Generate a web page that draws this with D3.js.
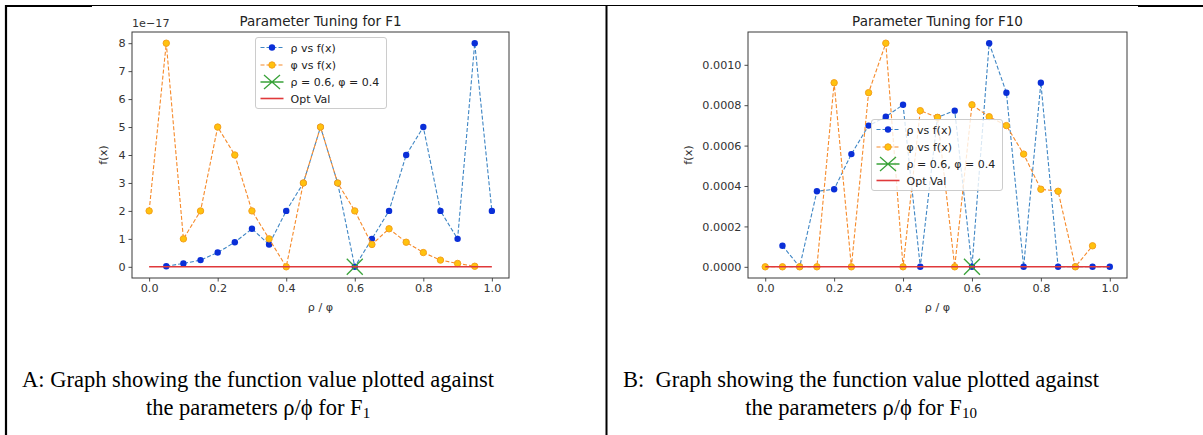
<!DOCTYPE html>
<html>
<head>
<meta charset="utf-8">
<script src="https://cdn.jsdelivr.net/npm/d3@7/dist/d3.min.js"></script>
<style>
  html, body { margin: 0; padding: 0; background: #fff; }
  svg { display: block; }
  .tick text { font-family: 'DejaVu Sans', sans-serif; }
</style>
</head>
<body>
<svg id="chart" width="1203" height="435"></svg>
<script>
// parameter grids (rho goes 0.05..1.0, phi goes 0.0..0.95)
const rhoGrid = [0.05, 0.1, 0.15, 0.2, 0.25, 0.3, 0.35, 0.4, 0.45, 0.5, 0.55, 0.6, 0.65, 0.7, 0.75, 0.8, 0.85, 0.9, 0.95, 1.0];
const phiGrid = [0.0, 0.05, 0.1, 0.15, 0.2, 0.25, 0.3, 0.35, 0.4, 0.45, 0.5, 0.55, 0.6, 0.65, 0.7, 0.75, 0.8, 0.85, 0.9, 0.95];

// F1 values, in units of 1e-17
const f1Rho = [0.02, 0.12, 0.24, 0.51, 0.88, 1.36, 0.8, 2, 3, 5, 3, 0, 1, 2, 4, 5, 2, 1, 8, 2];
const f1Phi = [2, 8, 1, 2, 5, 4, 2, 1, 0, 3, 5, 3, 2, 0.8, 1.36, 0.88, 0.51, 0.24, 0.12, 0.02];

// F10 values
const f10Rho = [0.000104, 0, 0.000374, 0.000384, 0.000558, 0.000699, 0.000743, 0.000802, 0, 0.00074,
  0.000773, 0, 0.001107, 0.000862, 0, 0.000911, 0, 0, 0, 0];
const f10Phi = [0, 0, 0, 0, 0.000911, 0, 0.000862, 0.001107, 0, 0.000773,
  0.00074, 0, 0.000802, 0.000743, 0.000699, 0.000558, 0.000384, 0.000374, 0, 0.000104];

const optPoint = [0.6, 0];
const optLine = [[0, 0], [1, 0]];

const xTicks = [0, 0.2, 0.4, 0.6, 0.8, 1.0];
const f1YTicks = [0, 1, 2, 3, 4, 5, 6, 7, 8];
const f10YTicks = [0, 0.0002, 0.0004, 0.0006, 0.0008, 0.001];

const legendLabels = ['ρ vs f(x)', 'φ vs f(x)', 'ρ = 0.6, φ = 0.4', 'Opt Val'];

const C = {
  rhoLine: '#3f86c4', rhoDot: '#0a2fd8',
  phiLine: '#f68a2a', phiDot: '#ffc20e', phiEdge: '#f5a01c',
  opt: '#3aa33a', val: '#e0393b', axis: '#3a3a3a', text: '#333'
};

const svg = d3.select('#chart');

// table borders
const border = svg.append('g').attr('stroke', '#000').attr('fill', 'none');
border.append('line').attr('x1', 5).attr('x2', 1203).attr('y1', 5.5).attr('y2', 5.5).attr('stroke-width', 1.2);
border.append('line').attr('x1', 5).attr('x2', 92).attr('y1', 6).attr('y2', 6).attr('stroke-width', 2);
border.append('line').attr('x1', 1138).attr('x2', 1203).attr('y1', 6).attr('y2', 6).attr('stroke-width', 2);
border.append('line').attr('x1', 6).attr('x2', 6).attr('y1', 5).attr('y2', 435).attr('stroke-width', 2.2);
border.append('line').attr('x1', 606.5).attr('x2', 606.5).attr('y1', 5).attr('y2', 435).attr('stroke-width', 2);

function padded(vals) {
  const [lo, hi] = d3.extent(vals);
  const m = (hi - lo) * 0.05;
  return [lo - m, hi + m];
}

function drawPanel(p) {
  const g = svg.append('g');
  const allY = p.rho.concat(p.phi, [optPoint[1]]);
  const x = d3.scaleLinear().domain(padded(phiGrid.concat(rhoGrid))).range([p.left, p.right]);
  const y = d3.scaleLinear().domain(padded(allY)).range([p.bottom, p.top]);

  const xAxis = g.append('g')
    .attr('transform', `translate(0,${p.bottom})`)
    .call(d3.axisBottom(x).tickValues(xTicks).tickFormat(d3.format('.1f')).tickSizeOuter(0).tickSize(3.5).tickPadding(3));
  const yAxis = g.append('g')
    .attr('transform', `translate(${p.left},0)`)
    .call(d3.axisLeft(y).tickValues(p.yTicks).tickFormat(p.yFormat).tickSizeOuter(0).tickSize(3.5).tickPadding(3));
  [xAxis, yAxis].forEach((a) => {
    a.select('.domain').remove();
    a.selectAll('.tick line').attr('stroke', C.axis).attr('stroke-width', 0.9);
    a.selectAll('.tick text').attr('fill', C.text).attr('font-size', 11.2);
  });

  const line = d3.line().x((d) => x(d[0])).y((d) => y(d[1]));
  const rhoPts = rhoGrid.map((v, i) => [v, p.rho[i]]);
  const phiPts = phiGrid.map((v, i) => [v, p.phi[i]]);

  g.append('path').attr('d', line(rhoPts)).attr('fill', 'none')
    .attr('stroke', C.rhoLine).attr('stroke-width', 1.1).attr('stroke-dasharray', '4,2');
  g.selectAll('circle.rho').data(rhoPts).join('circle').attr('class', 'rho')
    .attr('cx', (d) => x(d[0])).attr('cy', (d) => y(d[1])).attr('r', 3.2).attr('fill', C.rhoDot);

  g.append('path').attr('d', line(phiPts)).attr('fill', 'none')
    .attr('stroke', C.phiLine).attr('stroke-width', 1.1).attr('stroke-dasharray', '4,2');
  g.selectAll('circle.phi').data(phiPts).join('circle').attr('class', 'phi')
    .attr('cx', (d) => x(d[0])).attr('cy', (d) => y(d[1])).attr('r', 3.2)
    .attr('fill', C.phiDot).attr('stroke', C.phiEdge).attr('stroke-width', 1);

  const ox = x(optPoint[0]), oy = y(optPoint[1]);
  g.append('path').attr('d', `M${ox - 8},${oy - 8}L${ox + 8},${oy + 8}M${ox - 8},${oy + 8}L${ox + 8},${oy - 8}`)
    .attr('stroke', C.opt).attr('stroke-width', 1.3);

  g.append('path').attr('d', line(optLine)).attr('stroke', C.val).attr('stroke-width', 1.6).attr('fill', 'none');

  // frame
  g.append('rect').attr('x', p.left).attr('y', p.top).attr('width', p.right - p.left).attr('height', p.bottom - p.top)
    .attr('fill', 'none').attr('stroke', C.axis).attr('stroke-width', 1);

  const cx = (p.left + p.right) / 2;
  g.append('text').attr('x', cx).attr('y', 26).attr('text-anchor', 'middle')
    .attr('font-family', 'DejaVu Sans').attr('font-size', 13.5).attr('fill', '#222').text(p.title);
  g.append('text').attr('x', cx).attr('y', 311).attr('text-anchor', 'middle')
    .attr('font-family', 'DejaVu Sans').attr('font-size', 11.2).attr('fill', C.text).text('ρ / φ');
  g.append('text').attr('transform', `translate(${p.ylabelX},155) rotate(-90)`).attr('text-anchor', 'middle')
    .attr('font-family', 'DejaVu Sans').attr('font-size', 11.2).attr('fill', C.text).text('f(x)');
  if (p.offset) {
    g.append('text').attr('x', p.left).attr('y', 27)
      .attr('font-family', 'DejaVu Sans').attr('font-size', 11.2).attr('fill', C.text).text(p.offset);
  }

  // legend
  const lg = g.append('g').attr('transform', `translate(${p.legend[0]},${p.legend[1]})`);
  lg.append('rect').attr('width', 131).attr('height', 71).attr('rx', 2.5)
    .attr('fill', 'rgba(255,255,255,0.8)').attr('stroke', '#cccccc').attr('stroke-width', 1);
  const rowY = [10, 27.5, 44.5, 61];
  const x0 = 5, x1 = 28, mx = 16.5;
  lg.append('line').attr('x1', x0).attr('x2', x1).attr('y1', rowY[0]).attr('y2', rowY[0])
    .attr('stroke', C.rhoLine).attr('stroke-width', 1.1).attr('stroke-dasharray', '4,2');
  lg.append('circle').attr('cx', mx).attr('cy', rowY[0]).attr('r', 3.2).attr('fill', C.rhoDot);
  lg.append('line').attr('x1', x0).attr('x2', x1).attr('y1', rowY[1]).attr('y2', rowY[1])
    .attr('stroke', C.phiLine).attr('stroke-width', 1.1).attr('stroke-dasharray', '4,2');
  lg.append('circle').attr('cx', mx).attr('cy', rowY[1]).attr('r', 3.2)
    .attr('fill', C.phiDot).attr('stroke', C.phiEdge);
  lg.append('path')
    .attr('d', `M${x0},${rowY[2]}L${x1},${rowY[2]}M${mx - 8},${rowY[2] - 7}L${mx + 8},${rowY[2] + 7}M${mx - 8},${rowY[2] + 7}L${mx + 8},${rowY[2] - 7}`)
    .attr('stroke', C.opt).attr('stroke-width', 1.3);
  lg.append('line').attr('x1', x0).attr('x2', x1).attr('y1', rowY[3]).attr('y2', rowY[3])
    .attr('stroke', C.val).attr('stroke-width', 1.6);
  lg.selectAll('text').data(legendLabels).join('text')
    .attr('x', 35).attr('y', (d, i) => rowY[i] + 4)
    .attr('font-family', 'DejaVu Sans').attr('font-size', 11).attr('fill', '#222').text((d) => d);

  // caption
  const cap = g.append('g').attr('font-family', 'Liberation Serif, Times New Roman, serif')
    .attr('font-size', 22.5).attr('fill', '#000').attr('text-anchor', 'middle');
  cap.append('text').attr('x', p.capX).attr('y', 387).attr('xml:space', 'preserve').text(p.caption[0]);
  const t2 = cap.append('text').attr('x', p.capX).attr('y', 415);
  t2.append('tspan').text(p.caption[1]);
  t2.append('tspan').attr('font-size', 15).attr('dy', 3).text(p.caption[2]);
}

drawPanel({
  left: 132, right: 509, top: 32, bottom: 278,
  rho: f1Rho, phi: f1Phi, yTicks: f1YTicks, yFormat: d3.format('d'),
  title: 'Parameter Tuning for F1', offset: '1e\u221217', ylabelX: 107,
  legend: [255.5, 37.5],
  caption: ['A: Graph showing the function value plotted against', 'the parameters ρ/ϕ for F', '1'], capX: 258
});

drawPanel({
  left: 748, right: 1127, top: 32, bottom: 278,
  rho: f10Rho, phi: f10Phi, yTicks: f10YTicks, yFormat: d3.format('.4f'),
  title: 'Parameter Tuning for F10', offset: null, ylabelX: 692,
  legend: [871.5, 119.5],
  caption: ['B:\u00a0 Graph showing the function value plotted against', 'the parameters ρ/ϕ for F', '10'], capX: 861
});
</script>
</body>
</html>
